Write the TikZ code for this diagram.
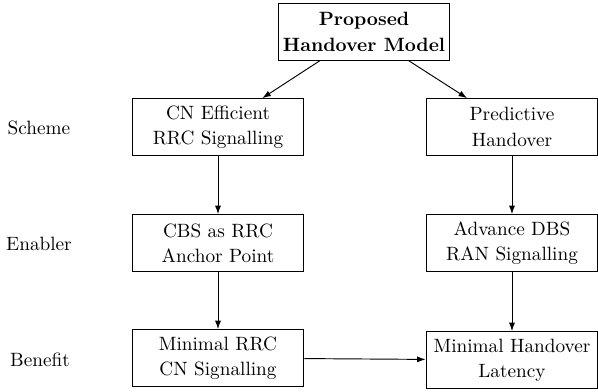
\documentclass[tikz,border=0pt]{standalone}
\usetikzlibrary{arrows.meta}
\begin{document}
\begin{tikzpicture}[x=0.53pt,y=-0.53pt,
  box/.style={draw,line width=0.6pt,align=center,minimum width=91pt,minimum height=30pt,inner sep=2pt,font=\fontsize{10.2}{13.4}\selectfont},
  lbl/.style={align=center,inner sep=0pt,font=\fontsize{10.2}{13.4}\selectfont},
  arr/.style={-{Latex[length=4.5pt,width=3.2pt]},line width=0.5pt}]
\useasboundingbox (0,0) rectangle (598,392);
\node[box] (top) at (364,32) {\textbf{Proposed}\\\textbf{Handover Model}};
\node[box] (l1) at (218,127) {CN Efficient\\RRC Signalling};
\node[box] (r1) at (512,127) {Predictive\\Handover};
\node[box] (l2) at (218,243) {CBS as RRC\\Anchor Point};
\node[box] (r2) at (512,243) {Advance DBS\\RAN Signalling};
\node[box] (l3) at (218,358) {Minimal RRC\\CN Signalling};
\node[box] (r3) at (512,360) {Minimal Handover\\Latency};
\node[lbl] (s) at (39,128) {Scheme};
\node[lbl] (e) at (39,244) {Enabler};
\node[lbl] (b) at (40,360) {Benefit};
\draw[arr] (top) -- (l1);
\draw[arr] (top) -- (r1);
\draw[arr] (l1) -- (l2);
\draw[arr] (l2) -- (l3);
\draw[arr] (r1) -- (r2);
\draw[arr] (r2) -- (r3);
\draw[arr] (l3) -- (r3);
\end{tikzpicture}
\end{document}
